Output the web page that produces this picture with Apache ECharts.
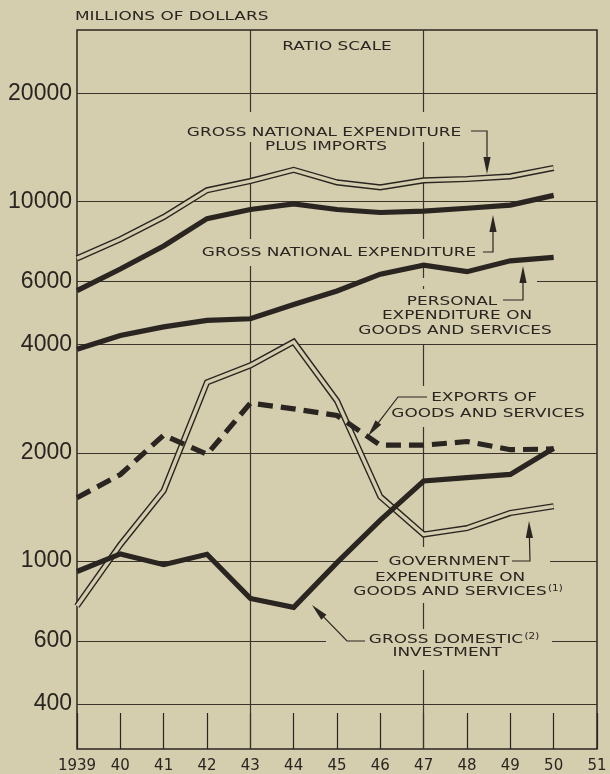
<!DOCTYPE html>
<html>
<head>
<meta charset="utf-8">
<script src="https://cdn.jsdelivr.net/npm/echarts@6/dist/echarts.min.js"></script>
<style>
  html, body { margin: 0; padding: 0; background: #d4cdae; }
  #main { width: 610px; height: 774px; }
</style>
</head>
<body>
<div id="main"></div>
<script>
// values (millions of dollars)
const years = [1939, 1940, 1941, 1942, 1943, 1944, 1945, 1946, 1947, 1948, 1949, 1950]
const gnePlusImports = [6950, 7850, 9050, 10750, 11400, 12250, 11300, 10950, 11450, 11550, 11750, 12400]
const gne = [5650, 6490, 7520, 8960, 9500, 9850, 9500, 9320, 9400, 9580, 9770, 10400]
const personal = [3880, 4240, 4480, 4670, 4720, 5170, 5640, 6280, 6650, 6380, 6840, 6990]
const exportsGS = [1500, 1740, 2240, 1980, 2750, 2650, 2540, 2100, 2100, 2150, 2040, 2050]
const government = [750, 1110, 1570, 3140, 3500, 4070, 2790, 1510, 1185, 1235, 1360, 1420]
const gdi = [935, 1047, 977, 1044, 787, 743, 990, 1300, 1670, 1706, 1742, 2060]

const yTicks = [400, 600, 1000, 2000, 4000, 6000, 10000, 20000]
const xLabels = ['1939', '40', '41', '42', '43', '44', '45', '46', '47', '48', '49', '50', '51']
const verticalRules = [1943, 1947]

const PAPER = '#d4cdae'
const INK = '#2a2520'
const FONT = '13px "DejaVu Sans", sans-serif'

const pairs = vals => years.map((y, i) => [y, vals[i]])

function line(name, vals, width, color, z, dash) {
    return {
        name: name,
        type: 'line',
        data: pairs(vals),
        symbol: 'none',
        z: z,
        silent: true,
        lineStyle: { width: width, color: color, type: dash || 'solid', join: 'miter', cap: 'butt' }
    }
}

// lettering and leader arrows
const notes = [
    ['RATIO SCALE', 337, 47],
    ['GROSS NATIONAL EXPENDITURE', 324, 133],
    ['PLUS IMPORTS', 326, 147],
    ['GROSS NATIONAL EXPENDITURE', 339, 253],
    ['PERSONAL', 452, 302],
    ['EXPENDITURE ON', 457, 316],
    ['GOODS AND SERVICES', 455, 331],
    ['EXPORTS OF', 484, 398],
    ['GOODS AND SERVICES', 488, 414],
    ['GOVERNMENT', 449, 562],
    ['EXPENDITURE ON', 450, 578],
    ['GOODS AND SERVICES{s|(1)}', 458, 592],
    ['GROSS DOMESTIC{s|(2)}', 454, 640],
    ['INVESTMENT', 447, 653]
]
const leaders = [
    [[471, 131], [487, 131], [487, 174]],
    [[483, 252], [493, 252], [493, 215]],
    [[503, 300], [523, 300], [523, 266]],
    [[427, 397], [398, 397], [368, 436]],
    [[512, 561], [530, 561], [529, 521]],
    [[365, 641], [347, 641], [312, 605]]
]
// paper patches where the rulings stop around the lettering
const gaps = [
    [180, 112, 292, 30], [258, 140, 136, 16], [196, 239, 290, 27], [365, 278, 172, 8],
    [358, 289, 194, 55], [388, 386, 200, 41], [378, 547, 172, 25], [352, 568, 212, 35],
    [326, 629, 226, 16], [385, 640, 126, 30]
]

function arrow(pts) {
    const n = pts.length
    const tip = pts[n - 1], prev = pts[n - 2]
    const dx = tip[0] - prev[0], dy = tip[1] - prev[1]
    const len = Math.sqrt(dx * dx + dy * dy)
    const ux = dx / len, uy = dy / len
    const base = [tip[0] - ux * 17, tip[1] - uy * 17]
    const px = -uy * 3.6, py = ux * 3.6
    return [
        { type: 'polyline', z: 10, silent: true, shape: { points: pts.slice(0, n - 1).concat([base]) },
          style: { stroke: INK, lineWidth: 1.2, fill: null } },
        { type: 'polygon', z: 10, silent: true,
          shape: { points: [tip, [base[0] + px, base[1] + py], [base[0] - px, base[1] - py]] },
          style: { fill: INK } }
    ]
}

const graphics = []
gaps.forEach(g => graphics.push({
    type: 'rect', z: 2, silent: true, shape: { x: g[0], y: g[1], width: g[2], height: g[3] },
    style: { fill: PAPER }
}))
notes.forEach(n => graphics.push({
    type: 'text', z: 10, silent: true, x: n[1], y: n[2], scaleX: 1.3,
    style: {
        text: n[0], x: 0, y: 0, font: FONT, fill: INK,
        align: 'center', textAlign: 'center', verticalAlign: 'middle', textVerticalAlign: 'middle',
        rich: { s: { font: '8px "DejaVu Sans", sans-serif', fill: INK, verticalAlign: 'top', padding: [0, 0, 7, 1] } }
    }
}))
graphics.push({
    type: 'text', z: 10, silent: true, x: 75, y: 17, scaleX: 1.3,
    style: { text: 'MILLIONS OF DOLLARS', x: 0, y: 0, font: FONT, fill: INK,
             align: 'left', textAlign: 'left', verticalAlign: 'middle', textVerticalAlign: 'middle' }
})
leaders.forEach(l => arrow(l).forEach(el => graphics.push(el)))

const myChart = echarts.init(document.getElementById('main'), null, { renderer: 'canvas' })
myChart.setOption({
    animation: false,
    backgroundColor: PAPER,
    grid: { left: 77, right: 13, top: 30, bottom: 22, show: true, borderColor: INK, borderWidth: 1.5 },
    xAxis: {
        type: 'value', min: 1939, max: 1951, interval: 1,
        axisLine: { show: false },
        splitLine: { show: false },
        axisTick: { inside: true, length: 36, lineStyle: { color: INK, width: 1.2 } },
        axisLabel: {
            margin: 10, color: INK, fontSize: 15, fontFamily: 'DejaVu Sans',
            formatter: v => xLabels[Math.round(v - 1939)]
        }
    },
    yAxis: {
        type: 'log', logBase: 10, min: 300, max: 30000,
        axisLine: { show: false }, axisTick: { show: false },
        axisLabel: { show: false }, splitLine: { show: false }
    },
    graphic: graphics,
    series: [
        {
            name: 'rulings', type: 'line', data: [], z: 1, silent: true,
            markLine: {
                z: 1, silent: true, symbol: 'none', animation: false,
                lineStyle: { color: '#3a342b', width: 1.2, type: 'solid' },
                label: {
                    position: 'start', distance: 5, color: INK,
                    fontSize: 23, fontFamily: '"Liberation Sans", Arial, sans-serif',
                    formatter: p => p.value
                },
                data: yTicks.map(v => ({ yAxis: v }))
                    .concat(verticalRules.map(v => ({ xAxis: v, label: { show: false } })))
            }
        },
        line('Gross national expenditure plus imports', gnePlusImports, 6.2, INK, 3),
        line('', gnePlusImports, 3.4, PAPER, 4),
        line('Government expenditure on goods and services', government, 6.2, INK, 3),
        line('', government, 3.4, PAPER, 4),
        line('Gross national expenditure', gne, 5.2, INK, 6),
        line('Personal expenditure on goods and services', personal, 5.2, INK, 6),
        line('Exports of goods and services', exportsGS, 5.2, INK, 6, [15, 8]),
        line('Gross domestic investment', gdi, 5.2, INK, 7)
    ]
})
</script>
</body>
</html>
